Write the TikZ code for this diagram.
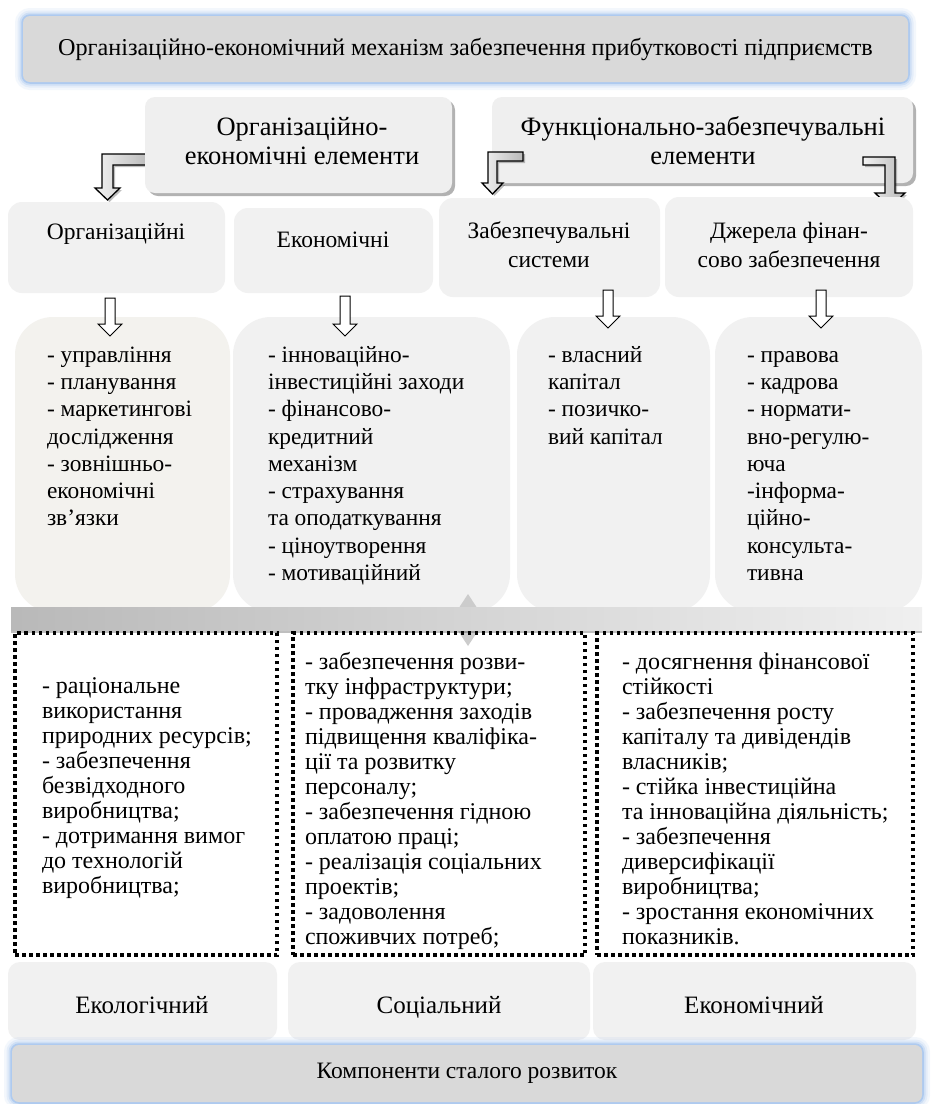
\documentclass[tikz,border=0pt]{standalone}
\usepackage{fontspec}
\setmainfont{Liberation Serif}
\usetikzlibrary{shadows,calc}
\definecolor{titlefill}{HTML}{D9D9D9}
\definecolor{glowblue}{HTML}{8FB6EA}
\definecolor{boxfill}{HTML}{EFEFEF}
\definecolor{lightfill}{HTML}{F1F1F1}
\definecolor{warmfill}{HTML}{F3F2EE}
\newcommand\boxat[6]{\node[#1, anchor=north west, minimum width={(#4)-(#2)}, minimum height={(#5)-(#3)}] (#6) at (#2,#3) {};}
\newcommand\dnarrow[3]{\draw[dnarr] ({#1-5},#2) -- ({#1+5},#2) -- ({#1+5},{#3-12}) -- ({#1+12},{#3-12}) -- (#1,#3) -- ({#1-12},{#3-12}) -- ({#1-5},{#3-12}) -- cycle;}
\begin{document}
\begin{tikzpicture}[x=1pt,y=-1pt,
 every node/.style={inner sep=0pt, outer sep=0pt},
 glowbox/.style={rectangle, fill=titlefill, rounded corners=7pt,
   preaction={draw=glowblue, line width=16pt, opacity=0.10},
   preaction={draw=glowblue, line width=11pt, opacity=0.15},
   preaction={draw=glowblue, line width=7pt, opacity=0.25},
   preaction={draw=glowblue, line width=3.5pt, opacity=0.5}},
 shadbox/.style={rectangle, fill=boxfill, rounded corners=10pt, drop shadow={shadow xshift=3pt, shadow yshift=-3pt, opacity=0.3, fill=black}},
 catbox/.style={rectangle, fill=lightfill, rounded corners=14pt},
 listbox/.style={rectangle, fill=lightfill, rounded corners=38pt},
 warmbox/.style={rectangle, fill=warmfill, rounded corners=38pt},
 dotbox/.style={rectangle, draw=black, line width=3.5pt, dash pattern=on 3.5pt off 3.5pt},
 lblbox/.style={rectangle, fill=lightfill, rounded corners=12pt},
 bigtxt/.style={font=\fontsize{23.5}{29}\selectfont, align=center},
 rowtwotxt/.style={font=\fontsize{26.5}{29}\selectfont, align=center},
 listtxt/.style={font=\fontsize{23.4}{27.3}\selectfont, align=left, anchor=north west},
 dottxt/.style={font=\fontsize{24}{25}\selectfont, align=left, anchor=north west},
 bentarr/.style={draw=black, line width=1.3pt, left color=gray!10, right color=gray!55, line join=miter, drop shadow={shadow xshift=2pt,shadow yshift=-2pt,opacity=0.25,fill=black}},
 dnarr/.style={draw=black, line width=1pt, fill=white, line join=miter}
]
\fill[white] (0,0) rectangle (930,1104);
\useasboundingbox (0,0) rectangle (930,1104);

% title
\boxat{glowbox}{23}{16}{908}{82}{title}
\node[bigtxt, font=\fontsize{24.2}{28}\selectfont] (titletxt) at (title.center) {Організаційно-економічний механізм забезпечення прибутковості підприємств};

% left bent arrow (behind box)
\draw[bentarr] (150,154) -- (102,154) -- (102,188) -- (95,188) -- (107.5,200) -- (120,188) -- (113,188) -- (113,165) -- (150,165) -- cycle;

% second row
\boxat{shadbox}{145}{97}{452}{193}{oe}
\node[rowtwotxt] (oetxt) at (302,141) {Організаційно-\\економічні елементи};
\boxat{shadbox}{492}{97}{913}{183}{fe}
\node[rowtwotxt] (fetxt) at (703,141) {Функціонально-забезпечувальні\\елементи};

\draw[bentarr] (523,152) -- (488,152) -- (488,183) -- (482,183) -- (492.5,194) -- (503,183) -- (497,183) -- (497,161) -- (523,161) -- cycle;
\draw[bentarr] (863,157) -- (895,157) -- (895,193) -- (905,193) -- (890,207) -- (875,193) -- (885,193) -- (885,165) -- (863,165) -- cycle;

% third row
\boxat{catbox}{8}{202}{225}{293}{c1}
\node[bigtxt] (c1txt) at (116,234) {Організаційні};
\boxat{catbox}{234}{208}{433}{293}{c2}
\node[bigtxt] (c2txt) at (333,240) {Економічні};
\boxat{catbox}{439}{198}{660}{297}{c3}
\node[bigtxt] (c3txt) at (549,245) {Забезпечувальні\\системи};
\boxat{catbox}{665}{197}{913}{297}{c4}
\node[bigtxt] (c4txt) at (789,245) {Джерела фінан-\\сово забезпечення};

% fourth row
\boxat{warmbox}{15}{317}{230}{612}{l1}
\node[listtxt] (l1txt) at (47,343) {\strut- управління\\- планування\\- маркетингові\\дослідження\\- зовнішньо-\\економічні\\зв’язки};
\boxat{listbox}{233}{317}{510}{612}{l2}
\node[listtxt] (l2txt) at (268,343) {\strut- інноваційно-\\інвестиційні заходи\\- фінансово-\\кредитний\\механізм\\- страхування\\та оподаткування\\- ціноутворення\\- мотиваційний};
\boxat{listbox}{517}{317}{710}{612}{l3}
\node[listtxt] (l3txt) at (548,343) {\strut- власний\\капітал\\- позичко-\\вий капітал};
\boxat{listbox}{715}{317}{922}{612}{l4}
\node[listtxt] (l4txt) at (747,343) {\strut- правова\\- кадрова\\- нормати-\\вно-регулю-\\юча\\-інформа-\\ційно-\\консульта-\\тивна};

% down arrows
\dnarrow{110}{298}{336}
\dnarrow{345}{296}{336}
\dnarrow{608}{290}{328}
\dnarrow{821}{290}{328}

% bar with diamond
\draw[fill=gray!40, draw=none] (468,594) -- (485,620) -- (468,646) -- (451,620) -- cycle;
\node[rectangle, anchor=north west, minimum width=911, minimum height=23, left color=gray!55, right color=gray!12, drop shadow={shadow xshift=0pt, shadow yshift=-3pt, opacity=0.25, fill=black}] (bar) at (11,607) {};

% dotted boxes
\boxat{dotbox}{15}{633}{277}{955}{d1}
\node[dottxt] (d1txt) at (42,676) {\strut- раціональне\\використання\\природних ресурсів;\\- забезпечення\\безвідходного\\виробництва;\\- дотримання вимог\\до технологій\\виробництва;};
\boxat{dotbox}{293}{633}{585}{955}{d2}
\node[dottxt] (d2txt) at (305,652) {\strut- забезпечення розви-\\тку інфраструктури;\\- провадження заходів\\підвищення кваліфіка-\\ції та розвитку\\персоналу;\\- забезпечення гідною\\оплатою праці;\\- реалізація соціальних\\проектів;\\- задоволення\\споживчих потреб;};
\boxat{dotbox}{597}{633}{913}{955}{d3}
\node[dottxt] (d3txt) at (622,652) {\strut- досягнення фінансової\\стійкості\\- забезпечення росту\\капіталу та дивідендів\\власників;\\- стійка інвестиційна\\та інноваційна діяльність;\\- забезпечення\\диверсифікації\\виробництва;\\- зростання економічних\\показників.};

% labels
\boxat{lblbox}{8}{962}{277}{1040}{e1}
\node[bigtxt, font=\fontsize{25}{29}\selectfont] (e1txt) at (142,1005) {Екологічний};
\boxat{lblbox}{288}{962}{590}{1040}{e2}
\node[bigtxt, font=\fontsize{25}{29}\selectfont] (e2txt) at (439,1007) {Соціальний};
\boxat{lblbox}{593}{962}{916}{1040}{e3}
\node[bigtxt, font=\fontsize{25}{29}\selectfont] (e3txt) at (754,1005) {Економічний};

% bottom
\boxat{glowbox}{12}{1045}{922}{1102}{comp}
\node[bigtxt, font=\fontsize{23.5}{28}\selectfont] (comptxt) at (comp.center) {Компоненти сталого розвиток};
\end{tikzpicture}
\end{document}
